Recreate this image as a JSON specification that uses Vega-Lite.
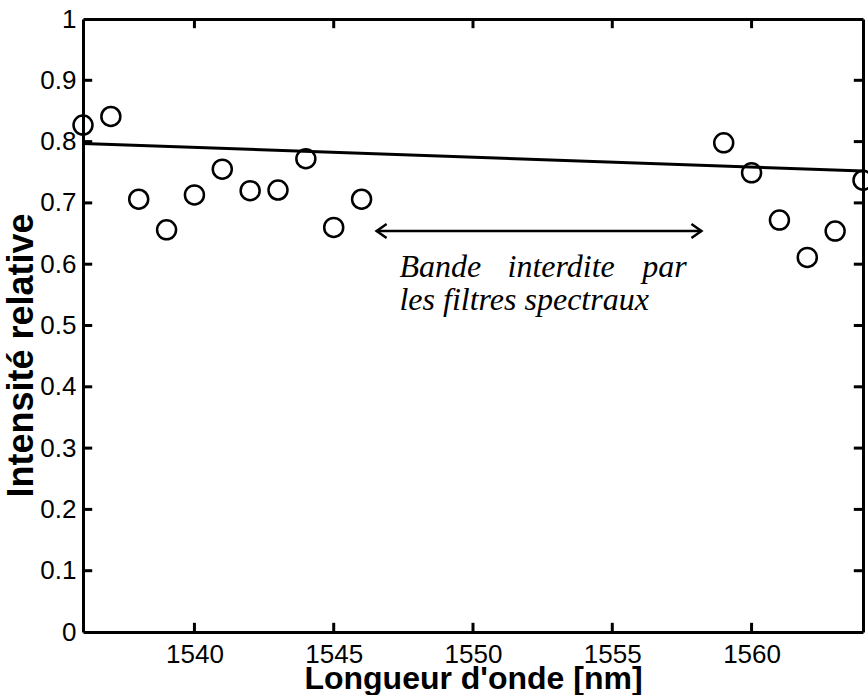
{
  "$schema": "https://vega.github.io/schema/vega-lite/v6.json",
  "width": 780,
  "height": 613,
  "autosize": {"type": "none"},
  "padding": {"left": 83, "top": 19, "right": 5, "bottom": 63},
  "background": "white",
  "config": {
    "view": {"stroke": null},
    "axis": {
      "grid": false,
      "ticks": false,
      "domainColor": "black",
      "domainWidth": 3,
      "labelColor": "black",
      "labelFont": "Liberation Sans",
      "labelFontSize": 26,
      "titleColor": "black",
      "titleFont": "Liberation Sans",
      "titleFontWeight": "bold",
      "titleFontSize": 32
    }
  },
  "datasets": {
    "pts": [
      {"wl": 1536, "I": 0.827},
      {"wl": 1537, "I": 0.841},
      {"wl": 1538, "I": 0.706},
      {"wl": 1539, "I": 0.656},
      {"wl": 1540, "I": 0.713},
      {"wl": 1541, "I": 0.755},
      {"wl": 1542, "I": 0.720},
      {"wl": 1543, "I": 0.721},
      {"wl": 1544, "I": 0.772},
      {"wl": 1545, "I": 0.660},
      {"wl": 1546, "I": 0.706},
      {"wl": 1559, "I": 0.798},
      {"wl": 1560, "I": 0.749},
      {"wl": 1561, "I": 0.672},
      {"wl": 1562, "I": 0.611},
      {"wl": 1563, "I": 0.654},
      {"wl": 1564, "I": 0.737}
    ],
    "fit": [
      {"wl": 1536, "I": 0.797},
      {"wl": 1564, "I": 0.752}
    ],
    "arrow": [
      {"wl": 1546.54, "I": 0.654, "dir": "left"},
      {"wl": 1558.2, "I": 0.654, "dir": "right"}
    ],
    "label": [
      {"wl": 1547.36, "I": 0.5796, "t": "Bande"},
      {"wl": 1551.24, "I": 0.5796, "t": "interdite"},
      {"wl": 1556.08, "I": 0.5796, "t": "par"},
      {"wl": 1547.36, "I": 0.5253, "t": "les filtres spectraux"}
    ],
    "xticks": [
      {"wl": 1540, "a": 0, "b": 0.015}, {"wl": 1545, "a": 0, "b": 0.015}, {"wl": 1550, "a": 0, "b": 0.015}, {"wl": 1555, "a": 0, "b": 0.015}, {"wl": 1560, "a": 0, "b": 0.015},
      {"wl": 1540, "a": 1, "b": 0.985}, {"wl": 1545, "a": 1, "b": 0.985}, {"wl": 1550, "a": 1, "b": 0.985}, {"wl": 1555, "a": 1, "b": 0.985}, {"wl": 1560, "a": 1, "b": 0.985}
    ],
    "yticks": [
      {"I": 0.1, "a": 1536, "b": 1536.33}, {"I": 0.2, "a": 1536, "b": 1536.33}, {"I": 0.3, "a": 1536, "b": 1536.33}, {"I": 0.4, "a": 1536, "b": 1536.33}, {"I": 0.5, "a": 1536, "b": 1536.33}, {"I": 0.6, "a": 1536, "b": 1536.33}, {"I": 0.7, "a": 1536, "b": 1536.33}, {"I": 0.8, "a": 1536, "b": 1536.33}, {"I": 0.9, "a": 1536, "b": 1536.33},
      {"I": 0.1, "a": 1564, "b": 1563.67}, {"I": 0.2, "a": 1564, "b": 1563.67}, {"I": 0.3, "a": 1564, "b": 1563.67}, {"I": 0.4, "a": 1564, "b": 1563.67}, {"I": 0.5, "a": 1564, "b": 1563.67}, {"I": 0.6, "a": 1564, "b": 1563.67}, {"I": 0.7, "a": 1564, "b": 1563.67}, {"I": 0.8, "a": 1564, "b": 1563.67}, {"I": 0.9, "a": 1564, "b": 1563.67}
    ]
  },
  "resolve": {"axis": {"x": "independent", "y": "independent"}},
  "layer": [
    {
      "data": {"name": "pts"},
      "mark": {"type": "point", "shape": "circle", "filled": false, "stroke": "black", "strokeWidth": 2.5, "size": 361, "opacity": 1, "clip": false},
      "encoding": {
        "x": {
          "field": "wl", "type": "quantitative",
          "scale": {"domain": [1536, 1564], "nice": false, "zero": false},
          "axis": {
            "orient": "bottom",
            "values": [1540, 1545, 1550, 1555, 1560],
            "format": "d",
            "labelPadding": 9,
            "title": "Longueur d'onde [nm]",
            "titleBaseline": "alphabetic",
            "titleY": 56,
            "titleX": 390
          }
        },
        "y": {
          "field": "I", "type": "quantitative",
          "scale": {"domain": [0, 1], "nice": false, "zero": false},
          "axis": {
            "orient": "left",
            "values": [0, 0.1, 0.2, 0.3, 0.4, 0.5, 0.6, 0.7, 0.8, 0.9, 1],
            "format": ".1~f",
            "labelPadding": 7,
            "title": "Intensité relative",
            "titleFontSize": 36,
            "titleAngle": -90,
            "titleBaseline": "alphabetic",
            "titleAlign": "center",
            "titleX": -51,
            "titleY": 336
          }
        }
      }
    },
    {
      "data": {"name": "fit"},
      "mark": {"type": "line", "color": "black", "strokeWidth": 3},
      "encoding": {
        "x": {
          "field": "wl", "type": "quantitative",
          "scale": {"domain": [1536, 1564], "nice": false, "zero": false},
          "axis": {"orient": "top", "labels": false, "title": null}
        },
        "y": {
          "field": "I", "type": "quantitative",
          "scale": {"domain": [0, 1], "nice": false, "zero": false},
          "axis": {"orient": "right", "labels": false, "title": null}
        }
      }
    },
    {
      "data": {"name": "xticks"},
      "mark": {"type": "rule", "color": "black", "strokeWidth": 3},
      "encoding": {
        "x": {"field": "wl", "type": "quantitative", "axis": null},
        "y": {"field": "a", "type": "quantitative", "axis": null},
        "y2": {"field": "b"}
      }
    },
    {
      "data": {"name": "yticks"},
      "mark": {"type": "rule", "color": "black", "strokeWidth": 3},
      "encoding": {
        "y": {"field": "I", "type": "quantitative", "axis": null},
        "x": {"field": "a", "type": "quantitative", "axis": null},
        "x2": {"field": "b"}
      }
    },
    {
      "data": {"name": "arrow"},
      "mark": {"type": "line", "color": "black", "strokeWidth": 2.5},
      "encoding": {
        "x": {"field": "wl", "type": "quantitative", "axis": null},
        "y": {"field": "I", "type": "quantitative", "axis": null}
      }
    },
    {
      "data": {"name": "arrow"},
      "mark": {"type": "point", "filled": false, "stroke": "black", "strokeWidth": 2.5, "size": 400, "opacity": 1},
      "encoding": {
        "x": {"field": "wl", "type": "quantitative", "axis": null},
        "y": {"field": "I", "type": "quantitative", "axis": null},
        "shape": {
          "field": "dir", "type": "nominal",
          "scale": {"domain": ["left", "right"], "range": ["M1,-0.7L0,0L1,0.7", "M-1,-0.7L0,0L-1,0.7"]},
          "legend": null
        }
      }
    },
    {
      "data": {"name": "label"},
      "mark": {"type": "text", "font": "Liberation Serif", "fontStyle": "italic", "fontSize": 32, "align": "left", "baseline": "alphabetic", "color": "black"},
      "encoding": {
        "x": {"field": "wl", "type": "quantitative", "axis": null},
        "y": {"field": "I", "type": "quantitative", "axis": null},
        "text": {"field": "t"}
      }
    }
  ]
}
